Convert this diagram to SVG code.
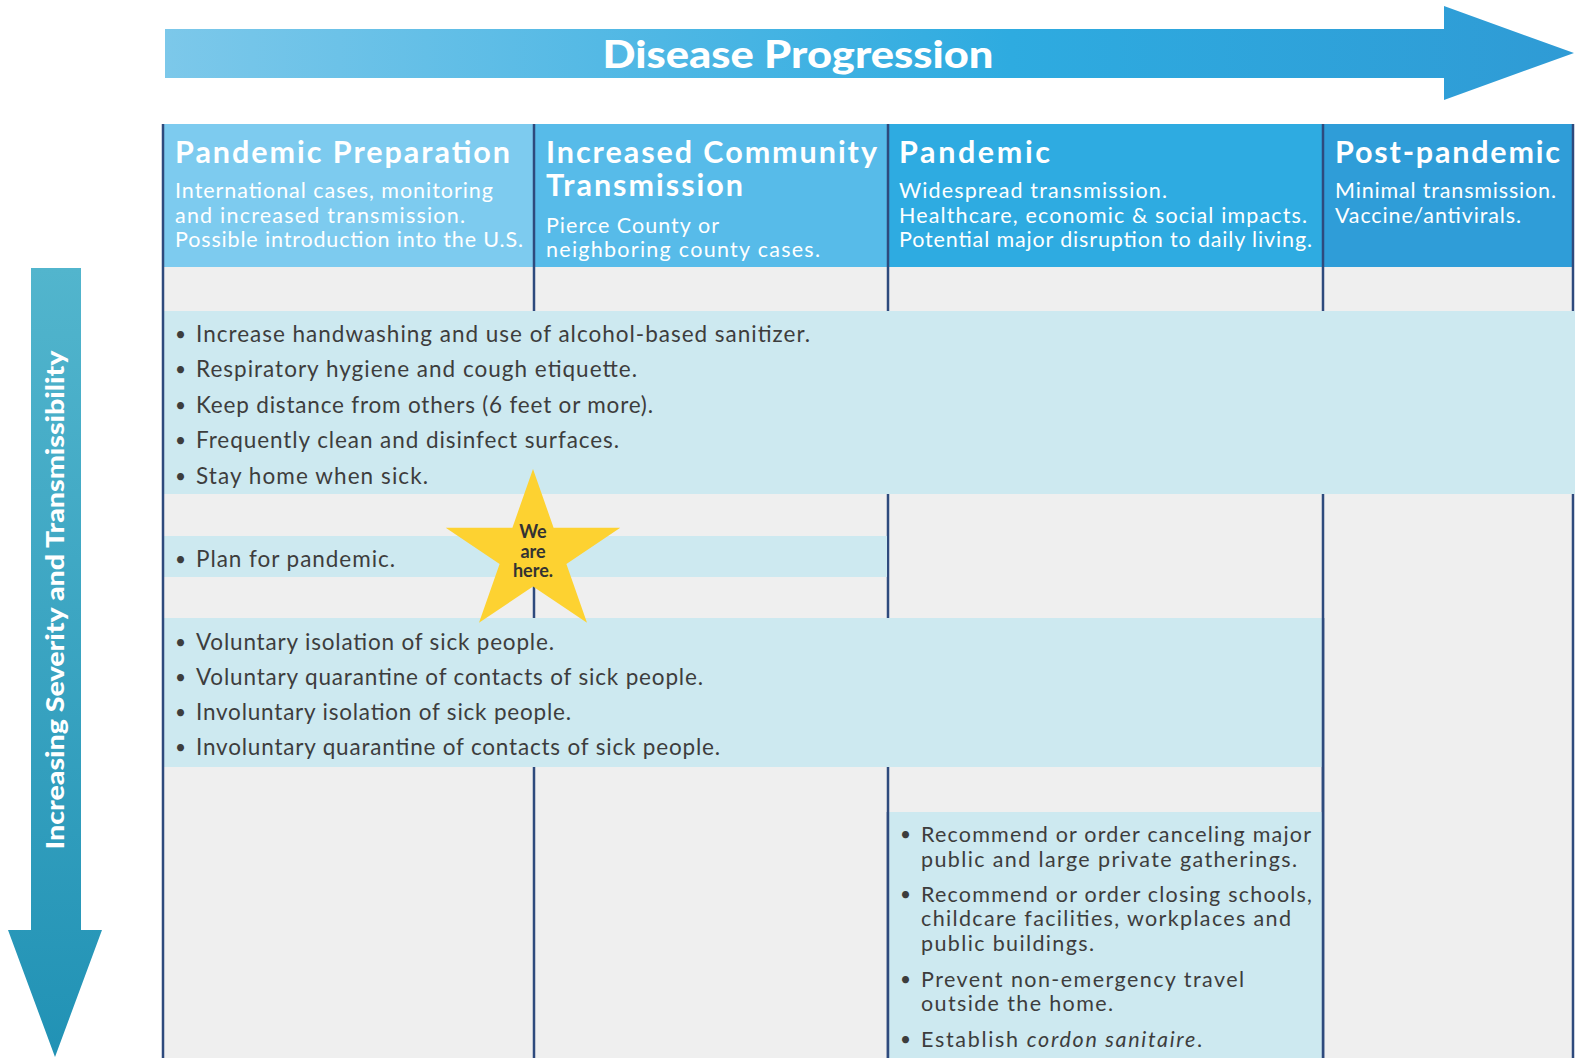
<svg xmlns="http://www.w3.org/2000/svg" width="1575" height="1058" viewBox="0 0 1575 1058">
<defs>
<linearGradient id="gTop" x1="0" y1="0" x2="1" y2="0">
<stop offset="0" stop-color="#7cc8ea"/>
<stop offset="0.6" stop-color="#2eabe0"/>
<stop offset="1" stop-color="#2f9bd5"/>
</linearGradient>
<linearGradient id="gLeft" x1="0" y1="0" x2="0" y2="1">
<stop offset="0" stop-color="#52b5cd"/>
<stop offset="1" stop-color="#2192b5"/>
</linearGradient>
<style>
.hTitle{font-family:"Lato","Liberation Sans",sans-serif;font-weight:700;font-size:30.5px;fill:#ffffff}
.hSub{font-family:"Lato","Liberation Sans",sans-serif;font-weight:400;font-size:21.5px;fill:#ffffff}
.body{font-family:"Lato","Liberation Sans",sans-serif;font-weight:400;font-size:22.5px;fill:#3d3d3d}
.bodyS{font-family:"Lato","Liberation Sans",sans-serif;font-weight:400;font-size:21.5px;fill:#3d3d3d}
.bullet{font-family:"Lato","Liberation Sans",sans-serif;font-size:19px;fill:#3d3d3d}
.band{fill:#cde9f0}
.gl{stroke:#2e4a7d;stroke-width:2.5;fill:none}
.axisText{font-family:"Lato","Liberation Sans",sans-serif;font-weight:900;fill:#ffffff}
.star{font-family:"Lato","Liberation Sans",sans-serif;font-weight:700;font-size:18px;fill:#333333}
</style>
</defs>
<rect width="1575" height="1058" fill="#ffffff"/>

<g id="axis-disease-progression">
<polygon points="165,29 1444,29 1444,6 1574,53 1444,100 1444,78 165,78" fill="url(#gTop)"/>
<text class="axisText" x="798" y="68" font-size="37" text-anchor="middle" textLength="391" lengthAdjust="spacingAndGlyphs">Disease Progression</text>
</g>

<g id="axis-severity">
<polygon points="31,268 81,268 81,930 102,930 55,1057 8,930 31,930" fill="url(#gLeft)"/>
<text class="axisText" transform="translate(64,600) rotate(-90)" x="0" y="0" font-size="24" text-anchor="middle" textLength="499" lengthAdjust="spacingAndGlyphs">Increasing Severity and Transmissibility</text>
</g>

<rect id="grid-background" x="163" y="267" width="1410" height="791" fill="#efefef"/>

<g id="phase-pandemic-preparation">
<rect x="163" y="124" width="371" height="143" fill="#7dcbef"/>
<text class="hTitle" x="175" y="163" textLength="335">Pandemic Preparation</text>
<text class="hSub" x="175" y="198" textLength="318">International cases, monitoring</text>
<text class="hSub" x="175" y="223" textLength="290">and increased transmission.</text>
<text class="hSub" x="175" y="247" textLength="348">Possible introduction into the U.S.</text>
</g>

<g id="phase-increased-community-transmission">
<rect x="534" y="124" width="354" height="143" fill="#57bbe9"/>
<text class="hTitle" x="546" y="163" textLength="331">Increased Community</text>
<text class="hTitle" x="546" y="196" textLength="197">Transmission</text>
<text class="hSub" x="546" y="233" textLength="173">Pierce County or</text>
<text class="hSub" x="546" y="257" textLength="274">neighboring county cases.</text>
</g>

<g id="phase-pandemic">
<rect x="888" y="124" width="435" height="143" fill="#2eabe1"/>
<text class="hTitle" x="899" y="163" textLength="151">Pandemic</text>
<text class="hSub" x="899" y="198" textLength="268">Widespread transmission.</text>
<text class="hSub" x="899" y="223" textLength="408">Healthcare, economic &amp; social impacts.</text>
<text class="hSub" x="899" y="247" textLength="413">Potential major disruption to daily living.</text>
</g>

<g id="phase-post-pandemic">
<rect x="1323" y="124" width="250" height="143" fill="#2f9dd8"/>
<text class="hTitle" x="1335" y="163" textLength="225">Post-pandemic</text>
<text class="hSub" x="1335" y="198" textLength="221">Minimal transmission.</text>
<text class="hSub" x="1335" y="223" textLength="186">Vaccine/antivirals.</text>
</g>

<g id="connectors">
<line class="gl" x1="534" y1="124" x2="534" y2="311"/>
<line class="gl" x1="534" y1="494" x2="534" y2="536"/>
<line class="gl" x1="534" y1="577" x2="534" y2="618"/>
<line class="gl" x1="534" y1="767" x2="534" y2="1058"/>
<line class="gl" x1="888" y1="124" x2="888" y2="311"/>
<line class="gl" x1="888" y1="494" x2="888" y2="618"/>
<line class="gl" x1="888" y1="767" x2="888" y2="1058"/>
<line class="gl" x1="1323" y1="124" x2="1323" y2="311"/>
<line class="gl" x1="1323" y1="494" x2="1323" y2="1058"/>
<line class="gl" x1="1573" y1="124" x2="1573" y2="311"/>
<line class="gl" x1="1573" y1="494" x2="1573" y2="1058"/>
</g>

<g id="measures-all-phases">
<rect class="band" x="164" y="311" width="1411" height="183"/>
<text class="bullet" x="175" y="341">•</text>
<text class="body" x="196" y="342" textLength="614">Increase handwashing and use of alcohol-based sanitizer.</text>
<text class="bullet" x="175" y="376">•</text>
<text class="body" x="196" y="377" textLength="441">Respiratory hygiene and cough etiquette.</text>
<text class="bullet" x="175" y="412">•</text>
<text class="body" x="196" y="413" textLength="457">Keep distance from others (6 feet or more).</text>
<text class="bullet" x="175" y="447">•</text>
<text class="body" x="196" y="448" textLength="423">Frequently clean and disinfect surfaces.</text>
<text class="bullet" x="175" y="483">•</text>
<text class="body" x="196" y="484" textLength="232">Stay home when sick.</text>
</g>

<g id="measures-plan">
<rect class="band" x="164" y="536" width="723" height="41"/>
<text class="bullet" x="175" y="566">•</text>
<text class="body" x="196" y="567" textLength="199">Plan for pandemic.</text>
</g>

<g id="measures-isolation-quarantine">
<rect class="band" x="164" y="618" width="1158" height="149"/>
<text class="bullet" x="175" y="649">•</text>
<text class="body" x="196" y="650" textLength="358">Voluntary isolation of sick people.</text>
<text class="bullet" x="175" y="684">•</text>
<text class="body" x="196" y="685" textLength="507">Voluntary quarantine of contacts of sick people.</text>
<text class="bullet" x="175" y="719">•</text>
<text class="body" x="196" y="720" textLength="375">Involuntary isolation of sick people.</text>
<text class="bullet" x="175" y="754">•</text>
<text class="body" x="196" y="755" textLength="524">Involuntary quarantine of contacts of sick people.</text>
</g>

<g id="measures-pandemic">
<rect class="band" x="889" y="812" width="433" height="246"/>
<text class="bullet" x="900" y="841">•</text>
<text class="bodyS" x="921" y="842" textLength="390">Recommend or order canceling major</text>
<text class="bodyS" x="921" y="867" textLength="376">public and large private gatherings.</text>
<text class="bullet" x="900" y="901">•</text>
<text class="bodyS" x="921" y="902" textLength="391">Recommend or order closing schools,</text>
<text class="bodyS" x="921" y="926" textLength="370">childcare facilities, workplaces and</text>
<text class="bodyS" x="921" y="951" textLength="173">public buildings.</text>
<text class="bullet" x="900" y="986">•</text>
<text class="bodyS" x="921" y="987" textLength="323">Prevent non-emergency travel</text>
<text class="bodyS" x="921" y="1011" textLength="192">outside the home.</text>
<text class="bullet" x="900" y="1046">•</text>
<text class="bodyS" x="921" y="1047" textLength="281">Establish <tspan font-style="italic">cordon sanitaire</tspan>.</text>
</g>

<g id="grid-borders">
<line class="gl" x1="163" y1="124" x2="163" y2="1058"/>
<line class="gl" x1="1323" y1="618" x2="1323" y2="1058"/>
<line class="gl" x1="888" y1="812" x2="888" y2="1058"/>
</g>

<g id="we-are-here">
<polygon points="533,469 553.6,527.7 620.3,527.7 566.4,564 587,622.8 533,586.5 479,622.8 499.6,564 445.7,527.7 512.4,527.7" fill="#fdd231"/>
<text class="star" x="533" y="538" text-anchor="middle">We</text>
<text class="star" x="533" y="558" text-anchor="middle">are</text>
<text class="star" x="533" y="577" text-anchor="middle">here.</text>
</g>
</svg>
